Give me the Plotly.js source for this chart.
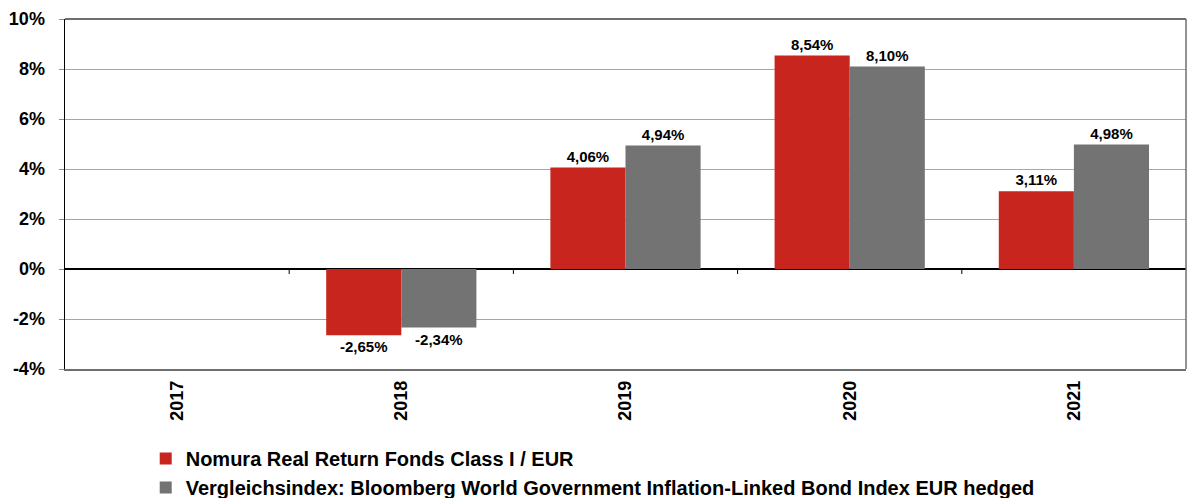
<!DOCTYPE html>
<html><head><meta charset="utf-8">
<script src="https://cdn.plot.ly/plotly-3.0.1.min.js"></script>
<style>html,body{margin:0;padding:0;background:#fff}#c{width:1187px;height:498px}</style>
</head><body><div id="c"></div>
<script>
const years = ['2017','2018','2019','2020','2021'];
const fundName = 'Nomura Real Return Fonds Class I / EUR';
const indexName = 'Vergleichsindex: Bloomberg World Government Inflation-Linked Bond Index EUR hedged';
const fundValues = [null, -2.65, 4.06, 8.54, 3.11];
const indexValues = [null, -2.34, 4.94, 8.10, 4.98];
const yTicks = [-4, -2, 0, 2, 4, 6, 8, 10];

const sans = '"Liberation Sans", Arial, sans-serif';
const labelFont = {family: sans, size: 15, color: '#000', weight: 'bold'};

const traces = [
  {type:'bar', name: fundName, legendgroup:'a', x: years, y: fundValues, marker:{color:'#c8251f'},
   texttemplate:'%{y:.2f}%', textposition:'outside', cliponaxis:false, textfont: labelFont},
  {type:'bar', name: indexName, legendgroup:'b', x: years, y: indexValues, marker:{color:'#737373'},
   texttemplate:'%{y:.2f}%', textposition:'outside', cliponaxis:false, textfont: labelFont}
];

const tickShapes = years.slice(0, -1).map((_, i) => ({
  type:'line', xref:'x', yref:'y', x0: i + 0.5, x1: i + 0.5, y0: 0, y1: -0.2,
  line:{color:'#000', width:1}
}));

const layout = {
  width:1187, height:498,
  margin:{l:65, r:1, t:19, b:129, autoexpand:false},
  separators: ',.',
  paper_bgcolor:'#fff', plot_bgcolor:'#fff',
  barmode:'group', bargap:0.33, bargroupgap:0,
  showlegend:true,
  legend:{x:0.072, xanchor:'left', y:-0.2, yanchor:'top', orientation:'v',
    font:{family: sans, size:20, color:'#000', weight:'bold'},
    itemwidth:30, tracegroupgap:7, traceorder:'normal', bgcolor:'rgba(0,0,0,0)'},
  xaxis:{type:'category', tickangle:-90, showgrid:false, showline:true, linecolor:'#6e6e6e', linewidth:1.5,
    ticks:'', tickfont:{family: sans, size:18, color:'#000', weight:'bold'},
    ticklabelstandoff:3, mirror:false, zeroline:false},
  yaxis:{range:[-4, 10], tickvals: yTicks, ticktext: yTicks.map(v => v + '%'),
    showgrid:true, gridcolor:'#a6a6a6', gridwidth:1,
    showline:true, linecolor:'#000', linewidth:1.5,
    ticks:'outside', ticklen:5, tickcolor:'#8a8a8a',
    tickfont:{family: sans, size:18, color:'#000', weight:'bold'},
    ticklabelstandoff:10,
    zeroline:true, zerolinecolor:'#000', zerolinewidth:1.2},
  shapes: [
    {type:'line', xref:'paper', yref:'paper', x0:0, x1:1, y0:1, y1:1, line:{color:'#6e6e6e', width:2}},
    {type:'line', xref:'paper', yref:'paper', x0:1, x1:1, y0:0, y1:1, line:{color:'#6e6e6e', width:1.5}}
  ].concat(tickShapes)
};

Plotly.newPlot('c', traces, layout, {displayModeBar:false, staticPlot:true});
</script></body></html>
